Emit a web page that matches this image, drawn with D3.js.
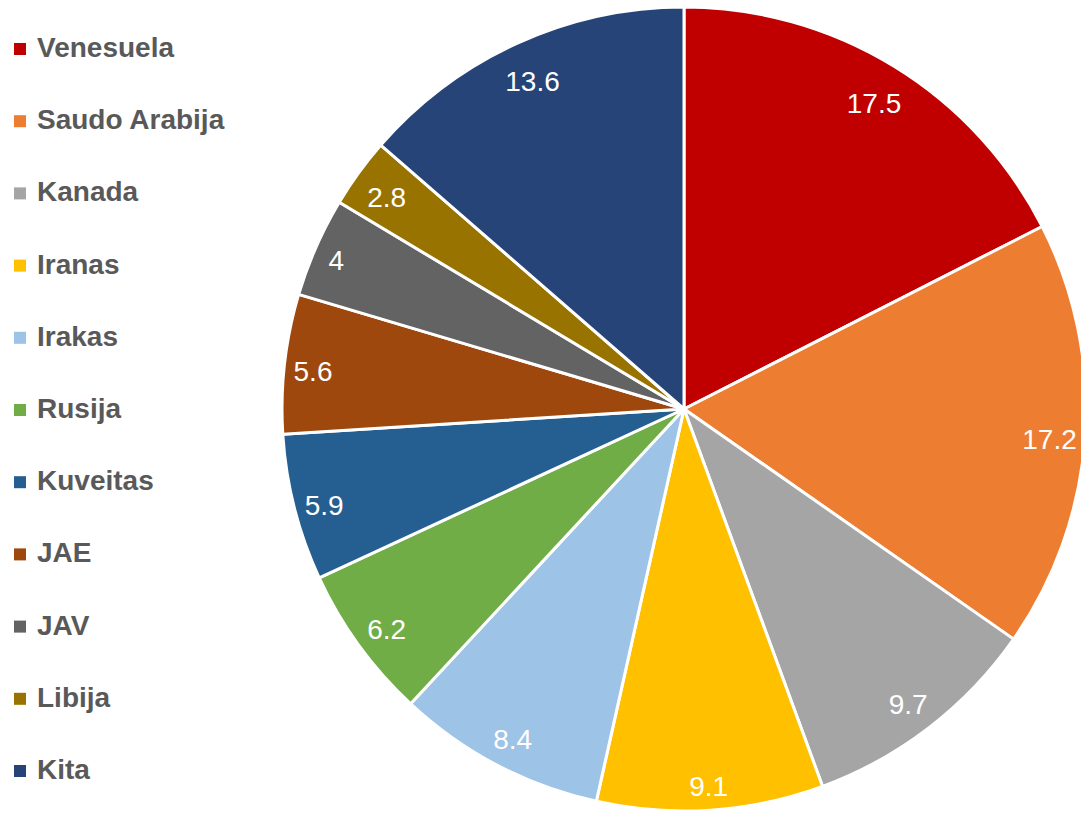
<!DOCTYPE html>
<html><head><meta charset="utf-8">
<script src="https://cdn.jsdelivr.net/npm/d3@7"></script>
<style>html,body{margin:0;padding:0;background:#fff;overflow:hidden}</style>
</head><body>
<svg id="chart" width="1081" height="814"></svg>
<script>
const categories = ["Venesuela","Saudo Arabija","Kanada","Iranas","Irakas","Rusija","Kuveitas","JAE","JAV","Libija","Kita"];
const values = [17.5,17.2,9.7,9.1,8.4,6.2,5.9,5.6,4,2.8,13.6];
const labels = ["17.5","17.2","9.7","9.1","8.4","6.2","5.9","5.6","4","2.8","13.6"];
const colors = ["#C00000","#ED7D31","#A5A5A5","#FFC000","#9DC3E6","#70AD47","#255E91","#9E480E","#636363","#997300","#264478"];

const svg = d3.select("#chart");
const cx = 684, cy = 409, R = 402;
const data = categories.map((c,i)=>({name:c, value:values[i], label:labels[i], color:colors[i]}));

const pie = d3.pie().value(d=>d.value).sort(null);
const arcs = pie(data);
const arc = d3.arc().innerRadius(0).outerRadius(R);

const g = svg.append("g").attr("transform",`translate(${cx},${cy})`);
g.selectAll("path").data(arcs).join("path")
  .attr("d",arc).attr("fill",d=>d.data.color)
  .attr("stroke","#fff").attr("stroke-width",3).attr("stroke-linejoin","round");

// "inside end" labels: label box fitted against the inner edge of the rim
const fs = 28, boxH = 40, rimIn = R - 7, yOff = 4.4;
g.selectAll("text").data(arcs).join("text")
  .attr("text-anchor","middle")
  .attr("fill","#fff").attr("font-family","'Liberation Sans', Arial, sans-serif")
  .attr("font-size",fs).text(d=>d.data.label)
  .each(function(d){
    const w = this.getComputedTextLength();
    const a = (d.startAngle + d.endAngle)/2;
    const sx = Math.sin(a), sy = -Math.cos(a);
    const ext = w/2*Math.abs(sx) + boxH/2*Math.abs(sy);
    const rb = rimIn - ext;
    const x = rb*sx, y = rb*sy + yOff + fs*0.716/2;
    d3.select(this).attr("x",x).attr("y",y);
  });

const legendY = d3.scalePoint().domain(categories).range([49, 771]);
const lg = svg.append("g");
const items = lg.selectAll("g").data(data).join("g")
  .attr("transform",d=>`translate(0,${legendY(d.name)})`);
items.append("rect").attr("x",14).attr("y",-6).attr("width",12).attr("height",12).attr("fill",d=>d.color);
items.append("text").attr("x",37).attr("y",8)
  .attr("font-family","'Liberation Sans', Arial, sans-serif").attr("font-weight","bold")
  .attr("font-size",28).attr("fill","#595959").text(d=>d.name);
</script>
</body></html>
